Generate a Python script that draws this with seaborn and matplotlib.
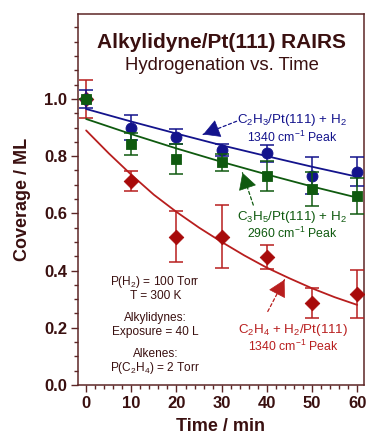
import matplotlib
matplotlib.use("Agg")
import matplotlib.pyplot as plt
import seaborn as sns
import numpy as np
import pandas as pd
from matplotlib.ticker import MultipleLocator

# ---- data ----
time = [0, 10, 20, 30, 40, 50, 60]

c2h3_cov = [1.00, 0.900, 0.868, 0.822, 0.810, 0.732, 0.746]
c2h3_err = [0.030, 0.044, 0.026, 0.020, 0.029, 0.064, 0.050]

c3h5_cov = [1.00, 0.842, 0.789, 0.779, 0.731, 0.685, 0.661]
c3h5_err = [0.000, 0.039, 0.052, 0.030, 0.053, 0.058, 0.064]

c2h4_cov = [1.00, 0.714, 0.519, 0.519, 0.449, 0.286, 0.317]
c2h4_err = [0.065, 0.035, 0.089, 0.110, 0.042, 0.052, 0.084]

# fitted curves
fit_time_10 = [0, 10, 20, 30, 40, 50, 60]
c2h3_fit = [0.965, 0.921, 0.879, 0.838, 0.800, 0.763, 0.728]
c3h5_fit = [0.930, 0.877, 0.827, 0.780, 0.736, 0.694, 0.655]
fit_time_5 = [0, 5, 10, 15, 20, 25, 30, 35, 40, 45, 50, 55, 60]
c2h4_fit = [0.890, 0.810, 0.735, 0.665, 0.605, 0.550, 0.500, 0.453,
            0.410, 0.373, 0.338, 0.307, 0.280]

x_ticks = [0, 10, 20, 30, 40, 50, 60]
y_ticks = [0.0, 0.2, 0.4, 0.6, 0.8, 1.0]

# ---- style ----
sns.set_theme(style="white")
plt.rcParams['font.family'] = ['Liberation Sans', 'DejaVu Sans']
plt.rcParams['mathtext.fontset'] = 'custom'
plt.rcParams['mathtext.rm'] = 'Liberation Sans'
plt.rcParams['mathtext.it'] = 'Liberation Sans:italic'
plt.rcParams['mathtext.bf'] = 'Liberation Sans:bold'

AXC = '#5c2626'
TXT = '#3a1010'
BLUE = '#13138c'
GREEN = '#0f5a0f'
RED = '#b81e1e'
RED_M = '#a80a0a'

fig = plt.figure(figsize=(3.67, 4.40), dpi=100)
ax = fig.add_axes([78/367, 55/440, 286/367, 371/440])

df_fit10 = pd.DataFrame({'t': fit_time_10, 'b': c2h3_fit, 'g': c3h5_fit})
df_fit5 = pd.DataFrame({'t': fit_time_5, 'r': c2h4_fit})
df = pd.DataFrame({'t': time, 'b': c2h3_cov, 'g': c3h5_cov, 'r': c2h4_cov})

# red series
sns.lineplot(data=df_fit5, x='t', y='r', ax=ax, color=RED, lw=1.3, zorder=2)
ax.errorbar(time, c2h4_cov, yerr=c2h4_err, fmt='none', ecolor=RED,
            elinewidth=1.1, capsize=5, capthick=1.1, zorder=3)
sns.scatterplot(data=df, x='t', y='r', ax=ax, marker='D', s=55,
                color=RED_M, edgecolor=RED_M, zorder=4)

# blue series
sns.lineplot(data=df_fit10, x='t', y='b', ax=ax, color=BLUE, lw=1.3, zorder=5)
ax.errorbar(time, c2h3_cov, yerr=c2h3_err, fmt='none', ecolor=BLUE,
            elinewidth=1.1, capsize=5, capthick=1.1, zorder=6)
sns.scatterplot(data=df, x='t', y='b', ax=ax, marker='o', s=62,
                color=BLUE, edgecolor=BLUE, zorder=7)

# green series
sns.lineplot(data=df_fit10, x='t', y='g', ax=ax, color=GREEN, lw=1.3, zorder=8)
ax.errorbar(time, c3h5_cov, yerr=c3h5_err, fmt='none', ecolor=GREEN,
            elinewidth=1.1, capsize=5, capthick=1.1, zorder=9)
sns.scatterplot(data=df, x='t', y='g', ax=ax, marker='s', s=55,
                color=GREEN, edgecolor=GREEN, zorder=10)

ax.set_xlim(-1.8, 61.5)
ax.set_ylim(0, 1.297)
ax.set_xticks(x_ticks)
ax.set_yticks(y_ticks)
ax.set_xticklabels([str(v) for v in x_ticks])
ax.set_yticklabels([f"{v:.1f}" for v in y_ticks])
ax.xaxis.set_minor_locator(MultipleLocator(2))
ax.yaxis.set_minor_locator(MultipleLocator(0.05))
ax.tick_params(axis='both', which='major', direction='out', length=5,
               width=1, color=AXC, labelsize=12, labelcolor=TXT, pad=3)
ax.tick_params(axis='both', which='minor', direction='out', length=3,
               width=1, color=AXC)
ax.tick_params(left=True, bottom=True, top=False, right=False)
ax.tick_params(which='minor', left=True, bottom=True, top=False, right=False)
for lab in ax.get_xticklabels() + ax.get_yticklabels():
    lab.set_fontweight('bold')
for sp in ax.spines.values():
    sp.set_color(AXC)
    sp.set_linewidth(1.1)

ax.set_xlabel('Time / min', fontsize=13, fontweight='bold', color=TXT, labelpad=5)
ax.set_ylabel('Coverage / ML', fontsize=13, fontweight='bold', color=TXT, labelpad=9)

# titles
ax.text(0.503, 0.922, 'Alkylidyne/Pt(111) RAIRS', transform=ax.transAxes,
        ha='center', va='center', fontsize=15, fontweight='bold', color=TXT)
ax.text(0.503, 0.860, 'Hydrogenation vs. Time', transform=ax.transAxes,
        ha='center', va='center', fontsize=13.3, color=TXT)

# annotations
def pointer(tail, head, color):
    ax.annotate('', xy=head, xytext=tail,
                arrowprops=dict(arrowstyle='-', color=color, lw=0.9,
                                linestyle=(0, (2.5, 2)), shrinkA=0, shrinkB=0),
                zorder=11)
    hx, hy = head
    tx, ty = tail
    sx = hx + (tx - hx) * 0.001
    sy = hy + (ty - hy) * 0.001
    ax.annotate('', xy=head, xytext=(sx, sy),
                arrowprops=dict(arrowstyle='-|>,head_length=0.9,head_width=0.5',
                                color=color, lw=0.5, shrinkA=0, shrinkB=0,
                                mutation_scale=12),
                zorder=11)

pointer((33.3, 0.922), (25.9, 0.876), BLUE)
pointer((37.0, 0.629), (34.6, 0.742), GREEN)
pointer((40.2, 0.257), (43.9, 0.368), RED)

FS1, FS2 = 9.6, 8.8
ax.text(45.6, 0.927, r'C$_2$H$_3$/Pt(111) + H$_2$', ha='center', va='center',
        fontsize=FS1, color=BLUE)
ax.text(45.6, 0.866, r'1340 cm$^{-1}$ Peak', ha='center', va='center',
        fontsize=FS2, color=BLUE)
ax.text(45.6, 0.587, r'C$_3$H$_5$/Pt(111) + H$_2$', ha='center', va='center',
        fontsize=FS1, color=GREEN)
ax.text(45.6, 0.529, r'2960 cm$^{-1}$ Peak', ha='center', va='center',
        fontsize=FS2, color=GREEN)
ax.text(45.8, 0.192, r'C$_2$H$_4$ + H$_2$/Pt(111)', ha='center', va='center',
        fontsize=FS1, color=RED)
ax.text(45.8, 0.136, r'1340 cm$^{-1}$ Peak', ha='center', va='center',
        fontsize=FS2, color=RED)

info = [(0.360, r'P(H$_2$) = 100 Torr'), (0.311, 'T = 300 K'),
        (0.234, 'Alkylidynes:'), (0.185, 'Exposure = 40 L'),
        (0.108, 'Alkenes:'), (0.059, r'P(C$_2$H$_4$) = 2 Torr')]
for yy, s in info:
    ax.text(15.3, yy, s, ha='center', va='center', fontsize=8.6, color=TXT)

fig.savefig('out.png', dpi=100)
